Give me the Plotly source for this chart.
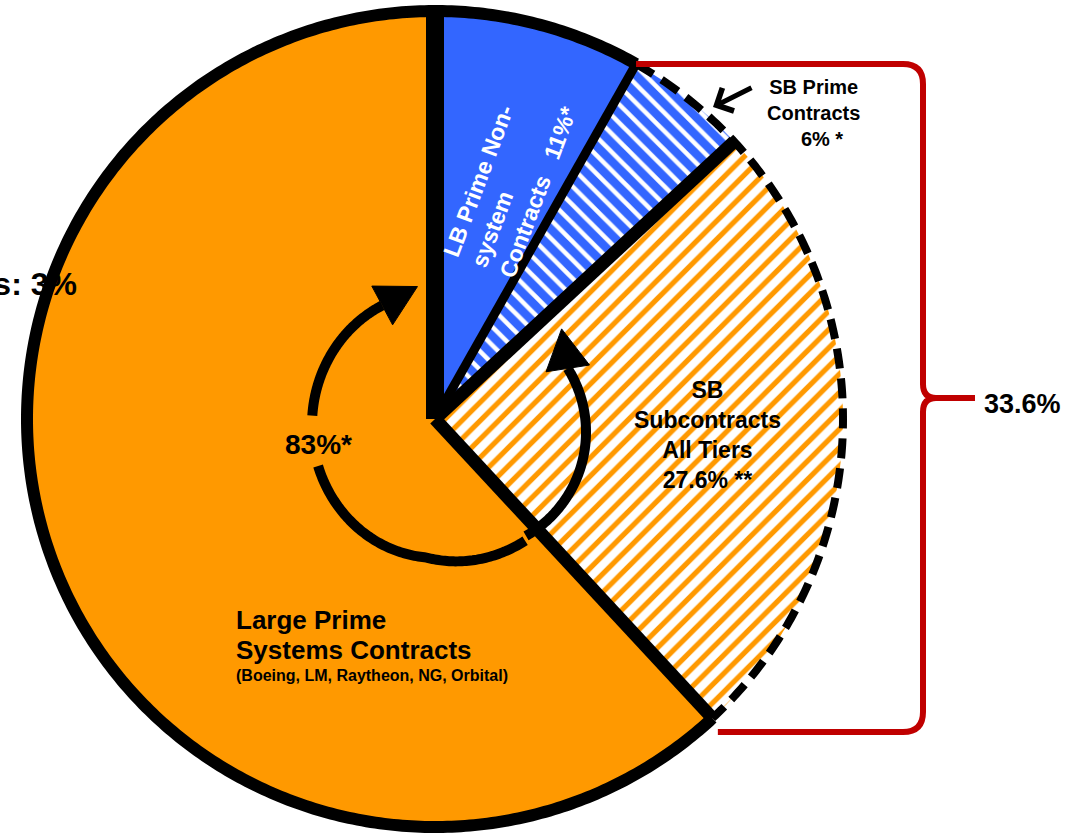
import numpy as np
import plotly.graph_objects as go

# ---------------- data ----------------
labels = ["LB Prime Non-system Contracts", "SB Prime Contracts",
          "SB Subcontracts All Tiers", "Large Prime Systems Contracts"]
values = [8.2, 4.9, 25.0, 61.9]          # slice shares as drawn
lb_text = "LB Prime Non-<br>system<br>Contracts&nbsp;&nbsp;&nbsp;11%*"
sbp_text = "SB Prime<br>Contracts<br>&nbsp;&nbsp;&nbsp;6% *"
sbs_text = "SB<br>Subcontracts<br>All Tiers<br>27.6% **"
large_lines = ["Large Prime", "Systems Contracts"]
large_note = "(Boeing, LM, Raytheon, NG, Orbital)"
large_total = "83%*"
sb_total = "33.6%"
other_text = "Others: 3%"

# ---------------- geometry / style ----------------
W, H = 1071, 839
CX, CY, R = 435, 419, 408
ORANGE, BLUE, RED = "#FF9900", "#3366FF", "#C00000"
FONT = "Arial, 'Liberation Sans', sans-serif"


def to_paper(x, y):
    return x / W, 1 - y / H


def polar(theta, r, cx=CX, cy=CY, rx=None, ry=None):
    t = np.radians(theta)
    rx = r if rx is None else rx
    ry = r if ry is None else ry
    return cx + rx * np.sin(t), cy - ry * np.cos(t)


def poly_path(points):
    s = []
    for i, (x, y) in enumerate(points):
        X, Y = to_paper(x, y)
        s.append(("M" if i == 0 else "L") + f"{X:.5f},{Y:.5f}")
    return " ".join(s)


def arc_pts(t0, t1, r, cx=CX, cy=CY, n=160):
    return [polar(t, r, cx, cy) for t in np.linspace(t0, t1, n)]


cum = np.cumsum(values) / np.sum(values) * 360.0
edges = [0.0, cum[0], cum[1], cum[2]]

fig = go.Figure(go.Pie(
    labels=labels, values=values, sort=False, direction="clockwise",
    rotation=0, textinfo="none", hoverinfo="label", showlegend=False,
    marker=dict(
        colors=[BLUE, BLUE, ORANGE, ORANGE], line=dict(width=0),
        pattern=dict(shape=["", "\\", "/", ""],
                     fgcolor=[BLUE, "white", ORANGE, ORANGE],
                     bgcolor=[BLUE, BLUE, "white", ORANGE],
                     size=13, solidity=[0.5, 0.35, 0.4, 0.5],
                     fillmode="replace")),
    domain=dict(x=[(CX - R) / W, (CX + R) / W],
                y=[1 - (CY + R) / H, 1 - (CY - R) / H]),
))

shapes = []
# outer outline: solid over large & LB, dashed over SB slices
shapes.append(dict(type="path", xref="paper", yref="paper",
                   path=poly_path(arc_pts(edges[3], 360 + edges[1], R, n=400)),
                   line=dict(color="black", width=12)))
shapes.append(dict(type="path", xref="paper", yref="paper",
                   path=poly_path(arc_pts(edges[1], edges[3], R, n=200)),
                   line=dict(color="black", width=8, dash="20px,10px")))
# radial edges
for ang, wd in zip(edges, [18, 9, 13, 13]):
    x1, y1 = polar(ang, R)
    X0, Y0 = to_paper(CX, CY)
    X1, Y1 = to_paper(x1, y1)
    shapes.append(dict(type="line", xref="paper", yref="paper",
                       x0=X0, y0=Y0, x1=X1, y1=Y1,
                       line=dict(color="black", width=wd)))


def arrow_head(p, d, length=40, half=22):
    d = np.array(d) / np.linalg.norm(d)
    n = np.array([-d[1], d[0]])
    p = np.array(p)
    tip = p + length * d
    a = p + half * n
    b = p - half * n
    return poly_path([tip, a, b]) + " Z"


def rotate(v, deg):
    r = np.radians(deg)
    return np.array([v[0] * np.cos(r) - v[1] * np.sin(r),
                     v[0] * np.sin(r) + v[1] * np.cos(r)])


# big curved arrow (83%) around the centre
LC = (437, 425)


def lscale(t):
    return 1.0 + max(0.0, 185 - t) / 44 * 0.12


def ell(t0, t1, n=120):
    pts = []
    for t in np.linspace(t0, t1, n):
        k = lscale(t)
        pts.append(polar(t, 1, LC[0], LC[1], rx=125 * k, ry=133 * k))
    return pts


segA = ell(141, 252)
segB = ell(274, 334)
shapes.append(dict(type="path", xref="paper", yref="paper", path=poly_path(segA),
                   line=dict(color="black", width=10)))
shapes.append(dict(type="path", xref="paper", yref="paper", path=poly_path(segB),
                   line=dict(color="black", width=10)))
end = np.array(segB[-1]); prev = np.array(segB[-4])
shapes.append(dict(type="path", xref="paper", yref="paper",
                   path=arrow_head(end, end - prev), fillcolor="black",
                   line=dict(color="black", width=1)))

# right curved arrow (towards SB slices)
RC = (466, 432)
segC = arc_pts(150, 58, 120, RC[0], RC[1], n=120)
shapes.append(dict(type="path", xref="paper", yref="paper", path=poly_path(segC),
                   line=dict(color="black", width=10)))
end = np.array(segC[-1]); prev = np.array(segC[-4])
dvec = rotate((end - prev) / np.linalg.norm(end - prev), 22)
shapes.append(dict(type="path", xref="paper", yref="paper",
                   path=arrow_head(end, dvec), fillcolor="black",
                   line=dict(color="black", width=1)))


# red brace
def cmd_path(cmds):
    out = []
    for c, pts in cmds:
        coords = []
        for (x, y) in pts:
            X, Y = to_paper(x, y)
            coords.append(f"{X:.5f},{Y:.5f}")
        out.append(c + " ".join(coords))
    return " ".join(out)


top_x = polar(edges[1], R)[0]
bot_x = polar(edges[3], R + 8)[0]
brace = cmd_path([
    ("M", [(top_x, 64)]), ("L", [(903, 64)]), ("Q", [(923, 64), (923, 84)]),
    ("L", [(923, 384)]), ("Q", [(923, 398), (936, 398)]), ("L", [(975, 398)]),
    ("M", [(936, 398)]), ("Q", [(923, 398), (923, 412)]),
    ("L", [(923, 712)]), ("Q", [(923, 732), (903, 732)]), ("L", [(bot_x, 732)]),
])
shapes.append(dict(type="path", xref="paper", yref="paper", path=brace,
                   line=dict(color=RED, width=6)))

annotations = []


def ann(text, x, y, size, color="black", **kw):
    X, Y = to_paper(x, y)
    d = dict(text=f"<b>{text}</b>", x=X, y=Y, xref="paper", yref="paper",
             showarrow=False, font=dict(family=FONT, size=size, color=color))
    d.update(kw)
    annotations.append(d)


ann(lb_text, 510, 182, 23, color="white", textangle=-69.5, align="left",
    xanchor="center", yanchor="middle")
ann(sbp_text, 813, 113, 20, align="center", xanchor="center", yanchor="middle")
ann(sbs_text, 707, 435, 23, align="center", xanchor="center", yanchor="middle")
for i, line in enumerate(large_lines):
    ann(line, 234, 620 + 30 * i, 26, align="left", xanchor="left",
        yanchor="middle")
ann(large_note, 234, 675, 16, align="left", xanchor="left", yanchor="middle")
ann(large_total, 318, 444, 28, xanchor="center", yanchor="middle")
ann(sb_total, 982, 404, 27, xanchor="left", yanchor="middle")
ann(other_text, 79, 284, 32, xanchor="right", yanchor="middle")

# pointer arrow for SB Prime label
tx, ty = to_paper(713, 107)
annotations.append(dict(text="", x=tx, y=ty, xref="paper", yref="paper",
                        showarrow=True, ax=40, ay=-20, arrowhead=4,
                        arrowsize=1.0, arrowwidth=5, arrowcolor="black",
                        standoff=0))

fig.update_layout(width=W, height=H, margin=dict(l=0, r=0, t=0, b=0),
                  paper_bgcolor="white", plot_bgcolor="white",
                  shapes=shapes, annotations=annotations, showlegend=False)

fig.write_html("out.html", config={"displayModeBar": False})
